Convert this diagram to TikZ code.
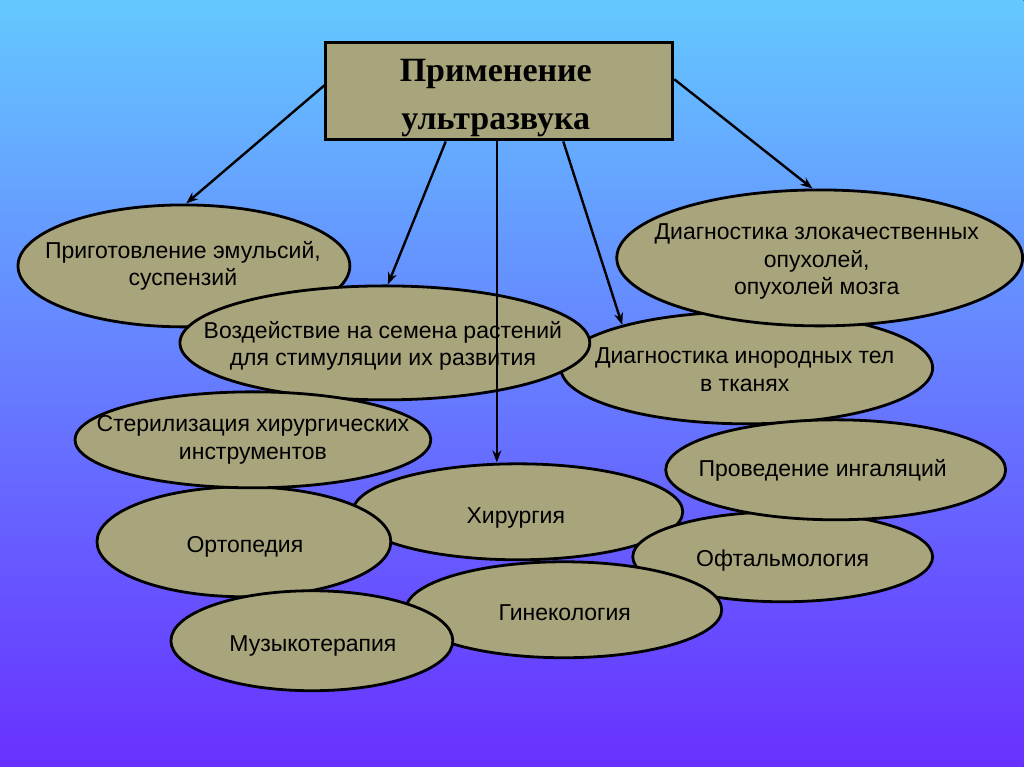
\documentclass[tikz,border=0pt]{standalone}
\usepackage{fontspec}
\setmainfont{Liberation Sans}
\newfontfamily\titlefont{Liberation Serif}
\usetikzlibrary{
    arrows.meta,
    shapes.geometric
}

\definecolor{khaki}{RGB}{168,164,124}
\definecolor{skytop}{RGB}{100,200,255}
\definecolor{skybottom}{RGB}{104,48,255}

\tikzset{
    oval/.style={ellipse, draw=black, line width=2.8pt, fill=khaki, inner sep=0pt},
    ovaltext/.style={align=center, yshift=-3pt, font=\fontsize{23}{27.5}\selectfont},
    link/.style={line width=2.4pt, -{Stealth[length=12pt,width=9pt]}}
}

\begin{document}
\begin{tikzpicture}[x=1pt,y=-1pt]

% Background
\fill[top color=skytop, bottom color=skybottom] (0,0) rectangle (1024,767);

% Title box
\node[draw, line width=3pt, fill=khaki, minimum width=347pt, minimum height=97pt]
      (box) at (499.5,91.5) {};
\node[align=center, font=\titlefont\bfseries\fontsize{34}{48}\selectfont]
      (boxtext) at (496,98) {Применение\\ультразвука};

% Upper row
\node[oval, minimum width=332pt, minimum height=122pt] (prig) at (184,266) {};
\node[ovaltext] (prigtext) at (183,263) {Приготовление эмульсий,\\суспензий};

\node[oval, minimum width=372pt, minimum height=112pt] (inor) at (747,368) {};
\node[ovaltext] (inortext) at (745,367) {Диагностика инородных тел\\в тканях};

\node[oval, minimum width=410pt, minimum height=114pt] (vozd) at (385,343) {};
\node[ovaltext] (vozdtext) at (383,343) {Воздействие на семена растений\\для стимуляции их развития};

\node[oval, minimum width=406pt, minimum height=136pt] (zlok) at (820,258) {};
\node[ovaltext] (zloktext) at (817,259) {Диагностика злокачественных\\опухолей,\\опухолей мозга};

% Lower rows
\node[oval, minimum width=330pt, minimum height=96pt] (hir) at (518,512) {};
\node[ovaltext] (hirtext) at (516,515) {Хирургия};

\node[oval, minimum width=294pt, minimum height=110pt] (orto) at (244,542) {};
\node[ovaltext] (ortotext) at (245,544) {Ортопедия};

\node[oval, minimum width=356pt, minimum height=96pt] (ster) at (253,440) {};
\node[ovaltext] (stertext) at (253,437) {Стерилизация хирургических\\инструментов};

\node[oval, minimum width=300pt, minimum height=90pt] (oft) at (783,557) {};
\node[ovaltext] (ofttext) at (783,558) {Офтальмология};

\node[oval, minimum width=340pt, minimum height=100pt] (ing) at (836,470) {};
\node[ovaltext] (ingtext) at (823,468) {Проведение ингаляций};

\node[oval, minimum width=316pt, minimum height=96pt] (gin) at (564,610) {};
\node[ovaltext] (gintext) at (565,610) {Гинекология};

\node[oval, minimum width=282pt, minimum height=100pt] (muz) at (312,641) {};
\node[ovaltext] (muztext) at (313,643) {Музыкотерапия};

% Arrows
\draw[link] (box.178) -- (prig.88);
\draw[link] (box.223) -- (vozd.87);
\draw[link] (box.south -| 497,0) -- (hir.north -| 497,0);
\draw[link] (box.322) -- (inor.161);
\draw[link] (box.4) -- (zlok.96);

\end{tikzpicture}
\end{document}
